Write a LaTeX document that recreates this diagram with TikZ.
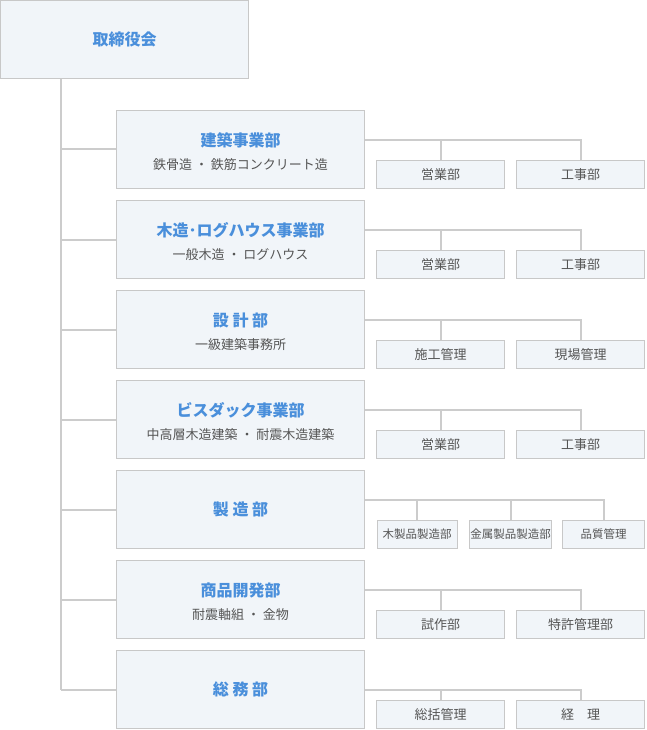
\documentclass[tikz,border=0pt]{standalone}
\usepackage{fontspec}
\setmainfont{Noto Sans CJK JP}
\definecolor{boxfill}{HTML}{F1F5F9}
\definecolor{boxline}{HTML}{C8C8C8}
\definecolor{linec}{HTML}{CCCCCC}
\definecolor{titleblue}{HTML}{4A8FDB}
\definecolor{textgray}{HTML}{555555}
\begin{document}
\begin{tikzpicture}[x=1pt,y=-1pt,
  box/.style={draw=boxline, fill=boxfill, line width=1pt, rectangle, inner sep=0pt, minimum width=248pt, minimum height=78pt},
  subbox/.style={draw=boxline, fill=boxfill, line width=1pt, rectangle, inner sep=0pt, minimum width=128pt, minimum height=28pt, font=\fontsize{13}{13}\selectfont, text=textgray},
  title/.style={font=\fontsize{16}{16}\selectfont\bfseries, text=titleblue, inner sep=0pt},
  subtitle/.style={font=\fontsize{13}{13}\selectfont, text=textgray, inner sep=0pt},
  conn/.style={draw=linec, line width=2pt}]
\useasboundingbox (0,0) rectangle (646,730);

% top
\node[box] (top) at (124.5,39.5) {};
\node[title] (toptext) at (top.center) {取締役会};

% departments
\node[box] (d1) at (240.5,149.5) {};
\node[title] (d1t) at (240.5,140) {建築事業部};
\node[subtitle] (d1s) at (240.5,165) {鉄骨造 ・ 鉄筋コンクリート造};

\node[box] (d2) at (240.5,239.5) {};
\node[title] (d2t) at (240.5,230) {木造･ログハウス事業部};
\node[subtitle] (d2s) at (240.5,255) {一般木造 ・ ログハウス};

\node[box] (d3) at (240.5,329.5) {};
\node[title] (d3t) at (240.5,320) {設 計 部};
\node[subtitle] (d3s) at (240.5,345) {一級建築事務所};

\node[box] (d4) at (240.5,419.5) {};
\node[title] (d4t) at (240.5,410) {ビスダック事業部};
\node[subtitle] (d4s) at (240.5,435) {中高層木造建築 ・ 耐震木造建築};

\node[box] (d5) at (240.5,509.5) {};
\node[title] (d5t) at (240.5,509.5) {製 造 部};

\node[box] (d6) at (240.5,599.5) {};
\node[title] (d6t) at (240.5,590) {商品開発部};
\node[subtitle] (d6s) at (240.5,615) {耐震軸組 ・ 金物};

\node[box] (d7) at (240.5,689.5) {};
\node[title] (d7t) at (240.5,689.5) {総 務 部};

% sub boxes
\node[subbox] (s1a) at (440.5,174.5) {営業部};
\node[subbox] (s1b) at (580.5,174.5) {工事部};
\node[subbox] (s2a) at (440.5,264.5) {営業部};
\node[subbox] (s2b) at (580.5,264.5) {工事部};
\node[subbox] (s3a) at (440.5,354.5) {施工管理};
\node[subbox] (s3b) at (580.5,354.5) {現場管理};
\node[subbox] (s4a) at (440.5,444.5) {営業部};
\node[subbox] (s4b) at (580.5,444.5) {工事部};
\node[subbox, minimum width=80pt, font=\fontsize{11.5}{11.5}\selectfont] (s5a) at (417,534.5) {木製品製造部};
\node[subbox, minimum width=82pt, font=\fontsize{11.5}{11.5}\selectfont] (s5b) at (510.5,534.5) {金属製品製造部};
\node[subbox, minimum width=82pt, font=\fontsize{11.5}{11.5}\selectfont] (s5c) at (603.5,534.5) {品質管理};
\node[subbox] (s6a) at (440.5,624.5) {試作部};
\node[subbox] (s6b) at (580.5,624.5) {特許管理部};
\node[subbox] (s7a) at (440.5,714.5) {総括管理};
\node[subbox] (s7b) at (580.5,714.5) {経　理};

% trunk
\coordinate (trunkend) at (61,690);
\draw[conn] (top.south -| trunkend) -- (trunkend);
\foreach \d in {d1,d2,d3,d4,d5,d6} {
  \draw[conn] (\d.west -| trunkend) -- (\d.west);
}
\draw[conn] (trunkend) -- (d7.west |- trunkend);

% right connectors
\foreach \d/\a/\b/\yy in {d1/s1a/s1b/140, d2/s2a/s2b/230, d3/s3a/s3b/320, d4/s4a/s4b/410, d6/s6a/s6b/590, d7/s7a/s7b/690} {
  \coordinate (\d c) at (365,\yy);
  \draw[conn] (\d.east |- \d c) -| (\b.north);
  \draw[conn] (\a.north) -- (\a.north |- \d c);
}
\coordinate (d5c) at (365,500);
\draw[conn] (d5.east |- d5c) -| (s5c.north);
\draw[conn] (s5a.north) -- (s5a.north |- d5c);
\draw[conn] (s5b.north) -- (s5b.north |- d5c);
\end{tikzpicture}
\end{document}
